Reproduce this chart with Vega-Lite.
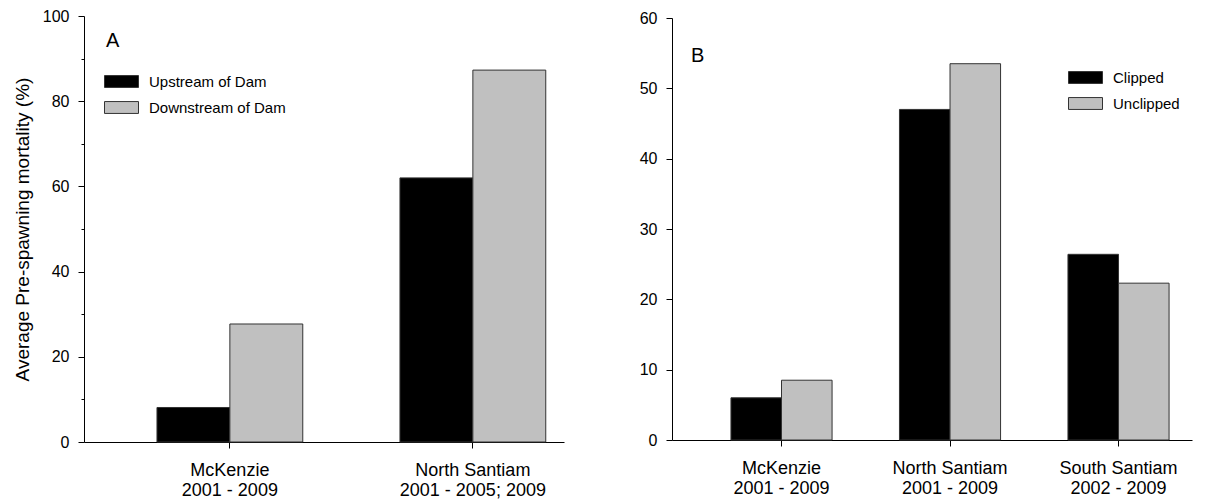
{
  "$schema": "https://vega.github.io/schema/vega-lite/v6.json",
  "padding": {"left": 13, "top": 8, "right": 5, "bottom": 5},
  "background": "white",
  "config": {
    "font": "Liberation Sans",
    "view": {"stroke": null},
    "axis": {"grid": false, "domainColor": "#000", "tickColor": "#000", "labelColor": "#000", "titleColor": "#000", "labelFont": "Liberation Sans", "titleFont": "Liberation Sans", "domainWidth": 1, "tickWidth": 1},
    "legend": {"labelFont": "Liberation Sans", "labelColor": "#000"}
  },
  "datasets": {
    "a": [
      {"site": "McKenzie|2001 - 2009", "location": "Upstream of Dam", "mortality": 8.1},
      {"site": "McKenzie|2001 - 2009", "location": "Downstream of Dam", "mortality": 27.7},
      {"site": "North Santiam|2001 - 2005; 2009", "location": "Upstream of Dam", "mortality": 62.0},
      {"site": "North Santiam|2001 - 2005; 2009", "location": "Downstream of Dam", "mortality": 87.3}
    ],
    "b": [
      {"site": "McKenzie|2001 - 2009", "fin": "Clipped", "mortality": 6.0},
      {"site": "McKenzie|2001 - 2009", "fin": "Unclipped", "mortality": 8.5},
      {"site": "North Santiam|2001 - 2009", "fin": "Clipped", "mortality": 47.0},
      {"site": "North Santiam|2001 - 2009", "fin": "Unclipped", "mortality": 53.5},
      {"site": "South Santiam|2002 - 2009", "fin": "Clipped", "mortality": 26.4},
      {"site": "South Santiam|2002 - 2009", "fin": "Unclipped", "mortality": 22.3}
    ]
  },
  "spacing": 75,
  "center": true,
  "hconcat": [
    {
      "width": 480,
      "height": 426,
      "data": {"name": "a"},
      "title": {"text": "A", "anchor": "start", "frame": "group", "fontSize": 20, "fontWeight": "normal", "font": "Liberation Sans", "color": "#000", "baseline": "alphabetic", "offset": 0, "dx": 22, "dy": 59},
      "mark": {"type": "bar", "stroke": "#333", "strokeWidth": 1},
      "encoding": {
        "x": {"field": "site", "type": "nominal", "sort": null,
          "scale": {"paddingInner": 0.4, "paddingOuter": 0.1877, "align": 0.8},
          "axis": {"title": null, "labelAngle": 0, "labelExpr": "split(datum.label, '|')", "labelFontSize": 18, "tickSize": 6, "labelPadding": 13, "labelLineHeight": 20}},
        "xOffset": {"field": "location", "type": "nominal", "sort": null, "scale": {"paddingInner": 0, "paddingOuter": 0}},
        "y": {"field": "mortality", "type": "quantitative",
          "scale": {"domain": [0, 100], "nice": false},
          "axis": {"title": "Average Pre-spawning mortality (%)", "values": [0, 10, 20, 30, 40, 50, 60, 70, 80, 90, 100],
            "labelExpr": "datum.value % 20 === 0 ? datum.label : ''",
            "tickSize": {"condition": {"test": "datum.value % 20 === 0", "value": 6}, "value": 3},
            "labelFontSize": 16, "labelPadding": 9, "titleFontSize": 19, "titleFontWeight": "normal", "titlePadding": 10}},
        "color": {"field": "location", "type": "nominal", "sort": null,
          "scale": {"domain": ["Upstream of Dam", "Downstream of Dam"], "range": ["#000000", "#c0c0c0"]},
          "legend": {"title": null, "orient": "none", "legendX": 20, "legendY": 48, "symbolType": "M-1,-0.35L1,-0.35L1,0.35L-1,0.35Z", "symbolSize": 1156, "symbolStrokeColor": "#333", "symbolStrokeWidth": 1, "labelFontSize": 15, "labelOffset": 10, "rowPadding": -10}}
      }
    },
    {
      "width": 520,
      "height": 422,
      "data": {"name": "b"},
      "title": {"text": "B", "anchor": "start", "frame": "group", "fontSize": 20, "fontWeight": "normal", "font": "Liberation Sans", "color": "#000", "baseline": "alphabetic", "offset": 0, "dx": 19, "dy": 72},
      "mark": {"type": "bar", "stroke": "#333", "strokeWidth": 1},
      "encoding": {
        "x": {"field": "site", "type": "nominal", "sort": null,
          "scale": {"paddingInner": 0.4, "paddingOuter": 0.243, "align": 0.72},
          "axis": {"title": null, "labelAngle": 0, "labelExpr": "split(datum.label, '|')", "labelFontSize": 18, "tickSize": 6, "labelPadding": 13, "labelLineHeight": 20}},
        "xOffset": {"field": "fin", "type": "nominal", "sort": null, "scale": {"paddingInner": 0, "paddingOuter": 0}},
        "y": {"field": "mortality", "type": "quantitative",
          "scale": {"domain": [0, 60], "nice": false},
          "axis": {"title": null, "values": [0, 10, 20, 30, 40, 50, 60], "tickSize": 6, "labelFontSize": 16, "labelPadding": 9}},
        "color": {"field": "fin", "type": "nominal", "sort": null,
          "scale": {"domain": ["Clipped", "Unclipped"], "range": ["#000000", "#c0c0c0"]},
          "legend": {"title": null, "orient": "none", "legendX": 396, "legendY": 42, "symbolType": "M-1,-0.35L1,-0.35L1,0.35L-1,0.35Z", "symbolSize": 1156, "symbolStrokeColor": "#333", "symbolStrokeWidth": 1, "labelFontSize": 15, "labelOffset": 10, "rowPadding": -10}}
      }
    }
  ],
  "resolve": {"scale": {"color": "independent", "y": "independent", "x": "independent", "xOffset": "independent"}, "legend": {"color": "independent"}}
}
